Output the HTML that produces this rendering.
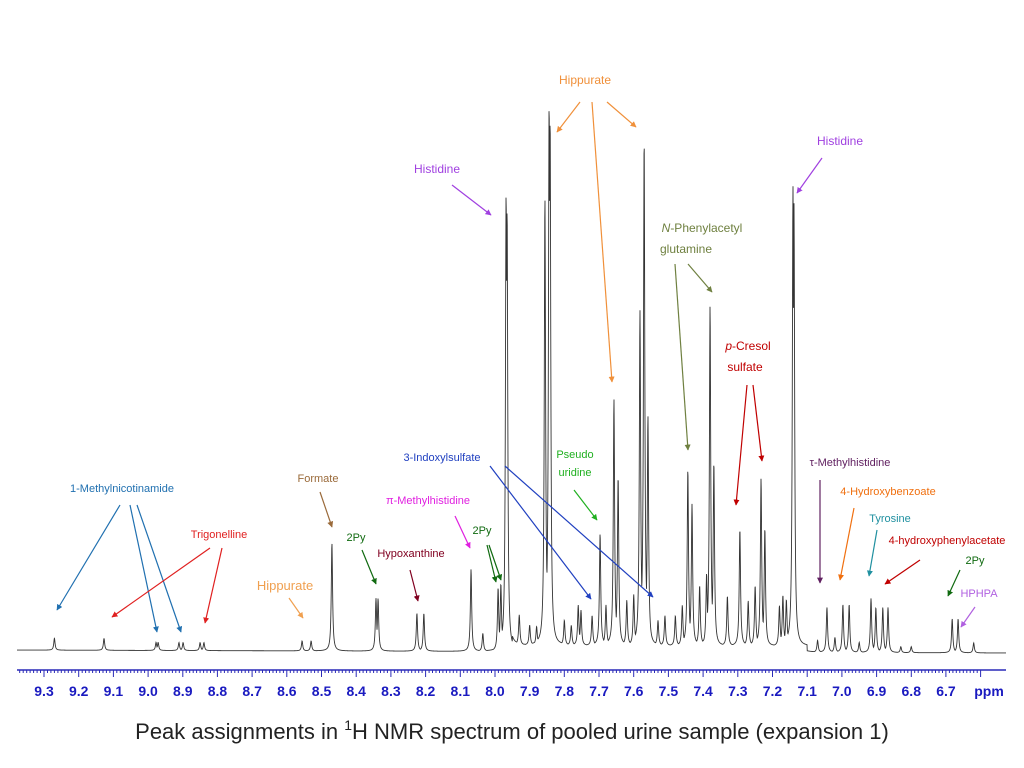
<!DOCTYPE html>
<html><head><meta charset="utf-8"><style>
body{margin:0;background:#fff;}
svg{display:block;font-family:"Liberation Sans",sans-serif;}
</style></head><body>
<svg id="chart" width="1024" height="768" viewBox="0 0 1024 768" xmlns="http://www.w3.org/2000/svg">
<defs>
<marker id="ah" viewBox="0 0 10 10" refX="9" refY="5" markerWidth="6" markerHeight="6" orient="auto-start-reverse" markerUnits="userSpaceOnUse"><path d="M0,0 L10,5 L0,10 z" fill="context-stroke"/></marker>
</defs>
<g id="spec"></g>
<g id="axis"></g>
<g id="ann"></g>
<text x="512" y="739" text-anchor="middle" font-size="22" fill="#222">Peak assignments in <tspan font-size="14" dy="-9">1</tspan><tspan dy="9">H NMR spectrum of pooled urine sample (expansion 1)</tspan></text>
</svg>
<script>
const peakPpm=[9.27,9.127,8.977,8.971,8.911,8.899,8.85,8.839,8.556,8.530,8.470,8.343,8.337,8.225,8.205,8.069,8.035,7.991,7.983,7.968,7.965,7.93,7.856,7.844,7.841,7.76,7.752,7.697,7.657,7.645,7.582,7.570,7.559,7.51,7.444,7.432,7.380,7.369,7.294,7.233,7.222,7.141,7.138,7.043,6.997,6.979,6.916,6.902,6.882,6.867,6.682,6.665,6.62,7.90,7.88,7.80,7.78,7.72,7.68,7.62,7.60,7.53,7.48,7.46,7.41,7.39,7.33,7.27,7.25,7.18,7.17,7.16,7.07,7.02,6.95,6.83,6.80];
const peakHeight=[12,12,8,8,8,8,8,8,10,10,108,52,52,38,38,82,18,62,65,437,420,30,445,515,500,40,35,112,246,168,333,505,227,30,176,141,339,182,117,167,117,438,420,45,48,48,54,45,45,45,34,34,10,20,18,25,20,30,40,45,50,25,30,40,60,70,50,45,60,40,50,45,12,15,10,6,6];
const tickLabels=["9.3","9.2","9.1","9.0","8.9","8.8","8.7","8.6","8.5","8.4","8.3","8.2","8.1","8.0","7.9","7.8","7.7","7.6","7.5","7.4","7.3","7.2","7.1","7.0","6.9","6.8","6.7"];
const NS="http://www.w3.org/2000/svg";
function xs(p){return 44+(9.3-p)*346.9;}
function ys(h){return 650-h;}
(function(){
 let d="";const w=0.0022;
 for(let x=17;x<=1006;x+=0.25){
  const p=9.3-(x-44)/346.9;let mx=0,sm=0;
  for(let i=0;i<peakPpm.length;i++){const dd=(p-peakPpm[i])/w;const v=peakHeight[i]/(1+dd*dd);if(v>mx)mx=v;sm+=v;}
  let s=mx+0.15*(sm-mx);
  let base=(p<7.95&&p>7.1)?6:0;
  d+=(d?"L":"M")+x.toFixed(2)+","+(ys(s+base)+(x/1006)*3).toFixed(2);
 }
 const path=document.createElementNS(NS,"path");
 
 
 path.setAttribute("d",d);path.setAttribute("fill","none");path.setAttribute("stroke","#333");path.setAttribute("stroke-width","0.9");
 document.getElementById("spec").appendChild(path);
})();
(function(){
 const g=document.getElementById("axis");
 let html='<line x1="17" y1="670" x2="1006" y2="670" stroke="#2a2ab8" stroke-width="1.5"/>';
 for(let k=-7;k<=270;k++){const p=9.3-k*0.01;const x=xs(p);if(x<17||x>1006)continue;
  const major=(k%10===0);html+=`<line x1="${x.toFixed(1)}" y1="670" x2="${x.toFixed(1)}" y2="${major?677:673}" stroke="#2a2ab8" stroke-width="1"/>`;}
 g.innerHTML=html;
 tickLabels.forEach(t=>{const el=document.createElementNS(NS,"text");
  
  
  el.setAttribute("x",xs(parseFloat(t)));el.setAttribute("y","696");el.setAttribute("text-anchor","middle");
  el.setAttribute("font-size","14");el.setAttribute("font-weight","bold");el.setAttribute("fill","#1a1ac0");el.textContent=t;g.appendChild(el);});
 const u=document.createElementNS(NS,"text");
 
 
 u.setAttribute("x","989");u.setAttribute("y","696");u.setAttribute("text-anchor","middle");u.setAttribute("font-size","14");u.setAttribute("font-weight","bold");u.setAttribute("fill","#1a1ac0");u.textContent="ppm";g.appendChild(u);
})();
(function(){
 const A=[
 ["Hippurate",[[585,84]],"#f0903a",[[580,102,557,132],[592,102,612,382],[607,102,636,127]],12],
 ["Histidine",[[840,145]],"#a040e0",[[822,158,797,193]],12],
 ["Histidine",[[437,173]],"#a040e0",[[452,185,491,215]],12],
 ["N-Phenylacetyl|glutamine",[[702,232],[686,253]],"#6f8040",[[675,264,688,450],[688,264,712,292]],12],
 ["p-Cresol|sulfate",[[748,350],[745,371]],"#c00000",[[747,385,736,505],[753,385,762,461]],12],
 ["3-Indoxylsulfate",[[442,461]],"#2040c0",[[490,466,591,599],[505,466,653,597]],11],
 ["Pseudo|uridine",[[575,458],[575,476]],"#20b020",[[574,490,597,520]],11],
 ["Formate",[[318,482]],"#9a6a3a",[[320,492,332,527]],11],
 ["1-Methylnicotinamide",[[122,492]],"#2070b0",[[120,505,57,610],[130,505,157,632],[137,505,181,632]],11],
 ["π-Methylhistidine",[[428,504]],"#e020e0",[[455,516,470,548]],11],
 ["Trigonelline",[[219,538]],"#e02020",[[210,548,112,617],[222,548,205,623]],11],
 ["2Py",[[356,541]],"#106a10",[[362,550,376,584]],11],
 ["2Py",[[482,534]],"#106a10",[[487,545,496,582],[489,545,501,580]],11],
 ["Hypoxanthine",[[411,557]],"#800020",[[410,570,418,601]],11],
 ["Hippurate",[[285,590]],"#f0a050",[[289,598,303,618]],13],
 ["τ-Methylhistidine",[[850,466]],"#602060",[[820,480,820,583]],11],
 ["4-Hydroxybenzoate",[[888,495]],"#f07010",[[854,508,840,580]],11],
 ["Tyrosine",[[890,522]],"#2090a0",[[877,530,869,576]],11],
 ["4-hydroxyphenylacetate",[[947,544]],"#c00000",[[920,560,885,584]],11],
 ["2Py",[[975,564]],"#106a10",[[960,570,948,596]],11],
 ["HPHPA",[[979,597]],"#b060e0",[[975,607,961,627]],11]];
 const g=document.getElementById("ann");
 A.forEach(a=>{
  const lines=a[0].split("|");
  lines.forEach((ln,i)=>{const t=document.createElementNS(NS,"text");
   
   
   t.setAttribute("x",a[1][i][0]);t.setAttribute("y",a[1][i][1]);t.setAttribute("text-anchor","middle");
   t.setAttribute("font-size",a[4]);t.setAttribute("fill",a[2]);
   if(ln.startsWith("N-")||ln.startsWith("p-")){t.innerHTML='<tspan font-style="italic">'+ln[0]+'</tspan>'+ln.slice(1);}
   else t.textContent=ln;g.appendChild(t);});
  a[3].forEach(l=>{const e=document.createElementNS(NS,"line");
   
   
   e.setAttribute("x1",l[0]);e.setAttribute("y1",l[1]);e.setAttribute("x2",l[2]);e.setAttribute("y2",l[3]);
   e.setAttribute("stroke",a[2]);e.setAttribute("stroke-width","1.2");e.setAttribute("marker-end","url(#ah)");g.appendChild(e);});
 });
})();
</script>
</body></html>
